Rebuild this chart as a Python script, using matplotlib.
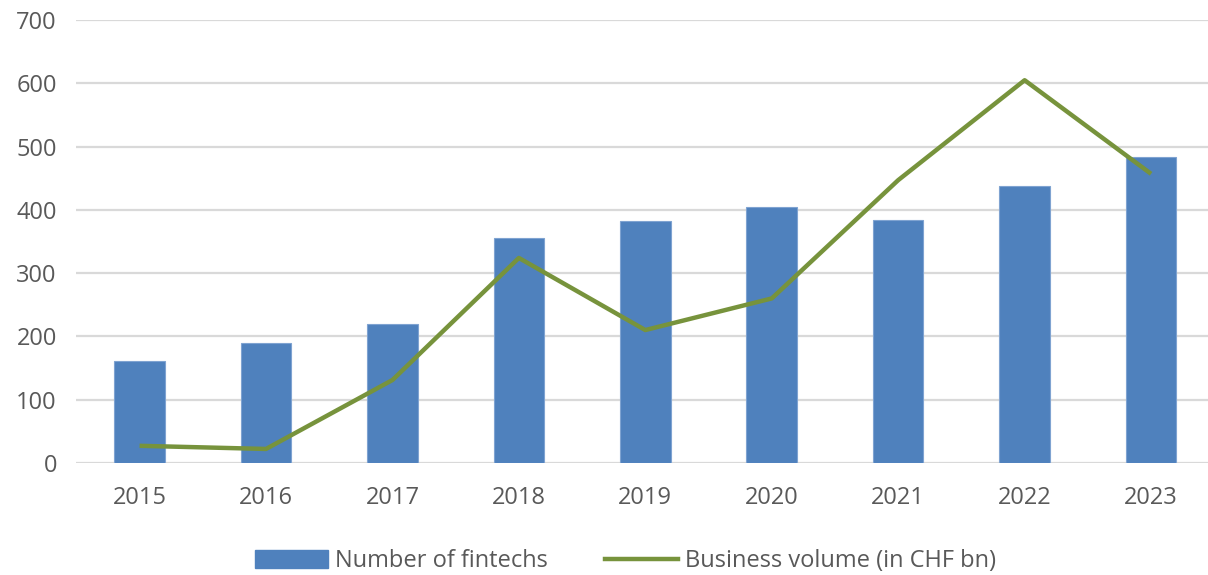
import matplotlib
matplotlib.use("Agg")
import matplotlib.pyplot as plt
from matplotlib.lines import Line2D
from matplotlib.patches import Patch

years = ["2015", "2016", "2017", "2018", "2019", "2020", "2021", "2022", "2023"]
fintechs = [161, 190, 220, 356, 382, 405, 384, 437, 483]
volume = [27, 22, 131, 324, 210, 260, 447, 605, 457]

plt.rcParams['font.family'] = ['Open Sans', 'DejaVu Sans']
txt = '#595959'

fig = plt.figure(figsize=(12.08, 5.75), dpi=100)
ax = fig.add_axes([0.0632, 0.195, 0.942, 0.770])

x = list(range(len(years)))
ax.bar(x, fintechs, width=0.40, color='#4F81BD', edgecolor='#7FA3D1', linewidth=0.8, zorder=2)
ax.plot(x, volume, color='#77933C', linewidth=3.2, solid_capstyle='butt', zorder=3)

ax.set_xlim(-0.5, len(years) - 0.5)
ax.set_ylim(0, 700)
ax.set_yticks(range(0, 701, 100))
ax.set_xticks(x)
ax.set_xticklabels(years)
ax.yaxis.grid(True, color='#D9D9D9', linewidth=1.6, zorder=0)
ax.set_axisbelow(True)
for s in ax.spines.values():
    s.set_visible(False)
ax.tick_params(axis='both', length=0, labelsize=17, colors=txt)
ax.tick_params(axis='y', pad=14)
ax.tick_params(axis='x', pad=17)

handles = [Patch(facecolor='#4F81BD', edgecolor='#4F81BD'),
           Line2D([0], [0], color='#77933C', linewidth=3.2)]
leg = fig.legend(handles, ["Number of fintechs", "Business volume (in CHF bn)"],
                 loc='center', bbox_to_anchor=(0.518, 0.024), ncol=2, frameon=False,
                 fontsize=17, handlelength=3.1, handleheight=0.8, handletextpad=0.3,
                 columnspacing=2.4, labelcolor=txt)

fig.savefig("out.png", dpi=100)
